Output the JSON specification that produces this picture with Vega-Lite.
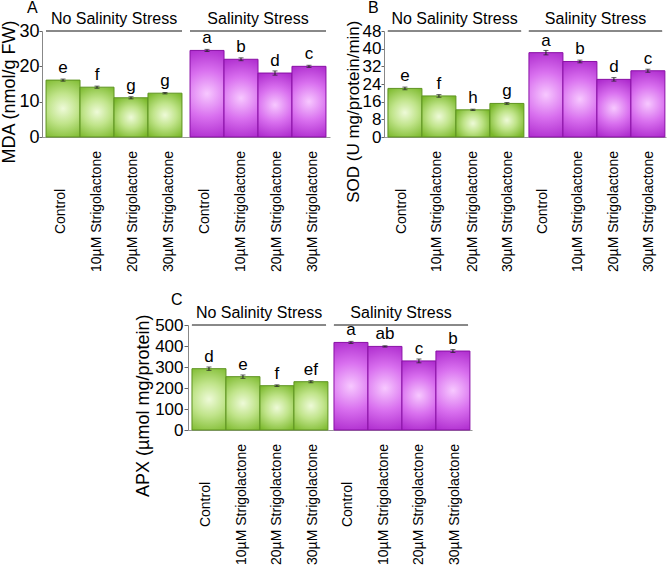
{
  "$schema": "https://vega.github.io/schema/vega-lite/v6.json",
  "background": "white",
  "padding": {"left": 0, "top": 0, "right": 2, "bottom": 0},
  "config": {
    "font": "Liberation Sans",
    "view": {"stroke": null},
    "axis": {"labelColor": "black", "titleColor": "black", "labelFont": "Liberation Sans", "titleFont": "Liberation Sans", "grid": false},
    "title": {"font": "Liberation Sans", "color": "black"}
  },
  "datasets": {
    "A": [
      {"stress": "No Salinity Stress", "treatment": "Control", "bar": "NS|Control", "value": 16.1, "err": 0.3, "letter": "e"},
      {"stress": "No Salinity Stress", "treatment": "10µM Strigolactone", "bar": "NS|10µM Strigolactone", "value": 14.1, "err": 0.3, "letter": "f"},
      {"stress": "No Salinity Stress", "treatment": "20µM Strigolactone", "bar": "NS|20µM Strigolactone", "value": 11.1, "err": 0.3, "letter": "g"},
      {"stress": "No Salinity Stress", "treatment": "30µM Strigolactone", "bar": "NS|30µM Strigolactone", "value": 12.4, "err": 0.2, "letter": "g"},
      {"stress": "Salinity Stress", "treatment": "Control", "bar": "S|Control", "value": 24.5, "err": 0.3, "letter": "a"},
      {"stress": "Salinity Stress", "treatment": "10µM Strigolactone", "bar": "S|10µM Strigolactone", "value": 22.0, "err": 0.4, "letter": "b"},
      {"stress": "Salinity Stress", "treatment": "20µM Strigolactone", "bar": "S|20µM Strigolactone", "value": 18.1, "err": 0.6, "letter": "d"},
      {"stress": "Salinity Stress", "treatment": "30µM Strigolactone", "bar": "S|30µM Strigolactone", "value": 20.0, "err": 0.3, "letter": "c"}
    ],
    "B": [
      {"stress": "No Salinity Stress", "treatment": "Control", "bar": "NS|Control", "value": 22.0, "err": 0.6, "letter": "e"},
      {"stress": "No Salinity Stress", "treatment": "10µM Strigolactone", "bar": "NS|10µM Strigolactone", "value": 18.6, "err": 0.6, "letter": "f"},
      {"stress": "No Salinity Stress", "treatment": "20µM Strigolactone", "bar": "NS|20µM Strigolactone", "value": 12.3, "err": 0.3, "letter": "h"},
      {"stress": "No Salinity Stress", "treatment": "30µM Strigolactone", "bar": "NS|30µM Strigolactone", "value": 15.2, "err": 0.4, "letter": "g"},
      {"stress": "Salinity Stress", "treatment": "Control", "bar": "S|Control", "value": 38.2, "err": 1.0, "letter": "a"},
      {"stress": "Salinity Stress", "treatment": "10µM Strigolactone", "bar": "S|10µM Strigolactone", "value": 34.2, "err": 0.6, "letter": "b"},
      {"stress": "Salinity Stress", "treatment": "20µM Strigolactone", "bar": "S|20µM Strigolactone", "value": 26.1, "err": 0.8, "letter": "d"},
      {"stress": "Salinity Stress", "treatment": "30µM Strigolactone", "bar": "S|30µM Strigolactone", "value": 30.0, "err": 0.7, "letter": "c"}
    ],
    "C": [
      {"stress": "No Salinity Stress", "treatment": "Control", "bar": "NS|Control", "value": 292, "err": 8, "letter": "d"},
      {"stress": "No Salinity Stress", "treatment": "10µM Strigolactone", "bar": "NS|10µM Strigolactone", "value": 254, "err": 8, "letter": "e"},
      {"stress": "No Salinity Stress", "treatment": "20µM Strigolactone", "bar": "NS|20µM Strigolactone", "value": 211, "err": 4, "letter": "f"},
      {"stress": "No Salinity Stress", "treatment": "30µM Strigolactone", "bar": "NS|30µM Strigolactone", "value": 230, "err": 5, "letter": "ef"},
      {"stress": "Salinity Stress", "treatment": "Control", "bar": "S|Control", "value": 417, "err": 5, "letter": "a"},
      {"stress": "Salinity Stress", "treatment": "10µM Strigolactone", "bar": "S|10µM Strigolactone", "value": 398, "err": 3, "letter": "ab"},
      {"stress": "Salinity Stress", "treatment": "20µM Strigolactone", "bar": "S|20µM Strigolactone", "value": 329, "err": 9, "letter": "c"},
      {"stress": "Salinity Stress", "treatment": "30µM Strigolactone", "bar": "S|30µM Strigolactone", "value": 376, "err": 7, "letter": "b"}
    ]
  },
  "vconcat": [
    {
      "hconcat": [
        {
          "data": {"name": "A"},
          "width": 288, "height": 106,
          "title": {"text": "A", "anchor": "start", "frame": "group", "fontSize": 16, "fontWeight": "normal", "dx": -15, "offset": -6},
          "encoding": {
            "y": {"field": "value", "type": "quantitative", "scale": {"domain": [0, 30]}, "title": "MDA (nmol/g FW)",
              "axis": {"title": "MDA (nmol/g FW)", "values": [0, 10, 20, 30], "domainColor": "#888", "tickColor": "#666", "tickSize": 3, "labelFontSize": 18, "labelPadding": 0, "titleFontSize": 18, "titleFontWeight": "normal", "titleAnchor": "end", "titleY": -11, "titlePadding": 0}}
          },
          "layer": [
            {
              "encoding": {
                "x": {"field": "stress", "type": "nominal", "sort": ["No Salinity Stress", "Salinity Stress"], "scale": {"paddingInner": 0.056, "paddingOuter": 0.028},
                  "axis": {"orient": "top", "title": null, "domain": false, "ticks": false, "labelFontSize": 16, "labelPadding": 5, "labelAngle": 0}},
                "xOffset": {"field": "treatment", "type": "nominal", "sort": ["Control", "10µM Strigolactone", "20µM Strigolactone", "30µM Strigolactone"], "scale": {"paddingInner": 0, "paddingOuter": 0}}
              },
              "layer": [
                {
                  "mark": {"type": "bar", "strokeWidth": 1},
                  "encoding": {
                    "fill": {"condition": {"test": "datum.stress === 'Salinity Stress'", "value": {"gradient": "radial", "x1": 0.5, "y1": 0.5, "r1": 0, "x2": 0.5, "y2": 0.5, "r2": 0.6, "stops": [{"offset": 0, "color": "#f7c8ff"}, {"offset": 0.45, "color": "#d970ef"}, {"offset": 1, "color": "#a41cc6"}]}},
                      "value": {"gradient": "radial", "x1": 0.5, "y1": 0.5, "r1": 0, "x2": 0.5, "y2": 0.5, "r2": 0.6, "stops": [{"offset": 0, "color": "#eefad8"}, {"offset": 0.45, "color": "#c0e48a"}, {"offset": 1, "color": "#7ab82a"}]}},
                    "stroke": {"condition": {"test": "datum.stress === 'Salinity Stress'", "value": "#8a10a6"}, "value": "#5e9420"}
                  }
                },
                {
                  "mark": {"type": "errorbar", "ticks": {"size": 5, "color": "#222"}, "rule": {"color": "#222"}},
                  "encoding": {"yError": {"field": "err"}}
                },
                {
                  "mark": {"type": "text", "fontSize": 17, "baseline": "bottom", "dy": -3, "color": "black"},
                  "encoding": {"text": {"field": "letter"}}
                },
                {
                  "mark": {"type": "bar", "fillOpacity": 0, "stroke": "#888", "strokeWidth": 1},
                  "encoding": {"xOffset": null, "y": {"datum": 30}, "y2": {"datum": 30}}
                }
              ]
            },
            {
              "mark": {"type": "point", "opacity": 0},
              "encoding": {
                "x": {"field": "bar", "type": "nominal", "sort": ["NS|Control", "NS|10µM Strigolactone", "NS|20µM Strigolactone", "NS|30µM Strigolactone", "S|Control", "S|10µM Strigolactone", "S|20µM Strigolactone", "S|30µM Strigolactone"],
                  "scale": {"paddingInner": 0, "paddingOuter": 0.13},
                  "axis": {"orient": "bottom", "title": null, "ticks": false, "domainColor": "#999", "labelAngle": -90, "labelAlign": "center", "labelBaseline": "middle", "labelPadding": 74, "labelFontSize": 14, "labelOverlap": false, "labelExpr": "split(datum.label, '|')[1]"}}
              }
            }
          ],
          "resolve": {"scale": {"x": "independent"}, "axis": {"x": "independent"}}
        },
        {
          "data": {"name": "B"},
          "width": 282, "height": 106,
          "title": {"text": "B", "anchor": "start", "frame": "group", "fontSize": 16, "fontWeight": "normal", "dx": -16, "offset": -6},
          "encoding": {
            "y": {"field": "value", "type": "quantitative", "scale": {"domain": [0, 48]}, "title": "SOD (U mg/protein/min)",
              "axis": {"title": "SOD (U mg/protein/min)", "values": [0, 8, 16, 24, 32, 40, 48], "domainColor": "#888", "tickColor": "#666", "tickSize": 3, "labelFontSize": 17, "labelPadding": 0, "titleFontSize": 17, "titleFontWeight": "normal", "titleAnchor": "end", "titleY": -11, "titlePadding": 0}}
          },
          "layer": [
            {
              "encoding": {
                "x": {"field": "stress", "type": "nominal", "sort": ["No Salinity Stress", "Salinity Stress"], "scale": {"paddingInner": 0.056, "paddingOuter": 0.028},
                  "axis": {"orient": "top", "title": null, "domain": false, "ticks": false, "labelFontSize": 16, "labelPadding": 5, "labelAngle": 0}},
                "xOffset": {"field": "treatment", "type": "nominal", "sort": ["Control", "10µM Strigolactone", "20µM Strigolactone", "30µM Strigolactone"], "scale": {"paddingInner": 0, "paddingOuter": 0}}
              },
              "layer": [
                {
                  "mark": {"type": "bar", "strokeWidth": 1},
                  "encoding": {
                    "fill": {"condition": {"test": "datum.stress === 'Salinity Stress'", "value": {"gradient": "radial", "x1": 0.5, "y1": 0.5, "r1": 0, "x2": 0.5, "y2": 0.5, "r2": 0.6, "stops": [{"offset": 0, "color": "#f7c8ff"}, {"offset": 0.45, "color": "#d970ef"}, {"offset": 1, "color": "#a41cc6"}]}},
                      "value": {"gradient": "radial", "x1": 0.5, "y1": 0.5, "r1": 0, "x2": 0.5, "y2": 0.5, "r2": 0.6, "stops": [{"offset": 0, "color": "#eefad8"}, {"offset": 0.45, "color": "#c0e48a"}, {"offset": 1, "color": "#7ab82a"}]}},
                    "stroke": {"condition": {"test": "datum.stress === 'Salinity Stress'", "value": "#8a10a6"}, "value": "#5e9420"}
                  }
                },
                {
                  "mark": {"type": "errorbar", "ticks": {"size": 5, "color": "#222"}, "rule": {"color": "#222"}},
                  "encoding": {"yError": {"field": "err"}}
                },
                {
                  "mark": {"type": "text", "fontSize": 17, "baseline": "bottom", "dy": -3, "color": "black"},
                  "encoding": {"text": {"field": "letter"}}
                },
                {
                  "mark": {"type": "bar", "fillOpacity": 0, "stroke": "#888", "strokeWidth": 1},
                  "encoding": {"xOffset": null, "y": {"datum": 48}, "y2": {"datum": 48}}
                }
              ]
            },
            {
              "mark": {"type": "point", "opacity": 0},
              "encoding": {
                "x": {"field": "bar", "type": "nominal", "sort": ["NS|Control", "NS|10µM Strigolactone", "NS|20µM Strigolactone", "NS|30µM Strigolactone", "S|Control", "S|10µM Strigolactone", "S|20µM Strigolactone", "S|30µM Strigolactone"],
                  "scale": {"paddingInner": 0, "paddingOuter": 0.13},
                  "axis": {"orient": "bottom", "title": null, "ticks": false, "domainColor": "#999", "labelAngle": -90, "labelAlign": "center", "labelBaseline": "middle", "labelPadding": 74, "labelFontSize": 14, "labelOverlap": false, "labelExpr": "split(datum.label, '|')[1]"}}
              }
            }
          ],
          "resolve": {"scale": {"x": "independent"}, "axis": {"x": "independent"}}
        }
      ],
      "spacing": 14
    },
    {
      "data": {"name": "C"},
      "width": 284, "height": 105,
      "title": {"text": "C", "anchor": "start", "frame": "group", "fontSize": 16, "fontWeight": "normal", "dx": -17, "offset": -4},
      "encoding": {
        "y": {"field": "value", "type": "quantitative", "scale": {"domain": [0, 500]}, "title": "APX (µmol mg/protein)",
          "axis": {"title": "APX (µmol mg/protein)", "values": [0, 100, 200, 300, 400, 500], "domainColor": "#888", "tickColor": "#666", "tickSize": 4, "labelFontSize": 17, "labelPadding": 1, "titleFontSize": 18, "titleFontWeight": "normal", "titleAnchor": "end", "titleY": -11, "titlePadding": 2}}
      },
      "layer": [
        {
          "encoding": {
            "x": {"field": "stress", "type": "nominal", "sort": ["No Salinity Stress", "Salinity Stress"], "scale": {"paddingInner": 0.056, "paddingOuter": 0.028},
              "axis": {"orient": "top", "title": null, "domain": false, "ticks": false, "labelFontSize": 16, "labelPadding": 5, "labelAngle": 0}},
            "xOffset": {"field": "treatment", "type": "nominal", "sort": ["Control", "10µM Strigolactone", "20µM Strigolactone", "30µM Strigolactone"], "scale": {"paddingInner": 0, "paddingOuter": 0}}
          },
          "layer": [
            {
              "mark": {"type": "bar", "strokeWidth": 1},
              "encoding": {
                "fill": {"condition": {"test": "datum.stress === 'Salinity Stress'", "value": {"gradient": "radial", "x1": 0.5, "y1": 0.5, "r1": 0, "x2": 0.5, "y2": 0.5, "r2": 0.6, "stops": [{"offset": 0, "color": "#f7c8ff"}, {"offset": 0.45, "color": "#d970ef"}, {"offset": 1, "color": "#a41cc6"}]}},
                  "value": {"gradient": "radial", "x1": 0.5, "y1": 0.5, "r1": 0, "x2": 0.5, "y2": 0.5, "r2": 0.6, "stops": [{"offset": 0, "color": "#eefad8"}, {"offset": 0.45, "color": "#c0e48a"}, {"offset": 1, "color": "#7ab82a"}]}},
                "stroke": {"condition": {"test": "datum.stress === 'Salinity Stress'", "value": "#8a10a6"}, "value": "#5e9420"}
              }
            },
            {
              "mark": {"type": "errorbar", "ticks": {"size": 5, "color": "#222"}, "rule": {"color": "#222"}},
              "encoding": {"yError": {"field": "err"}}
            },
            {
              "mark": {"type": "text", "fontSize": 17, "baseline": "bottom", "dy": -3, "color": "black"},
              "encoding": {"text": {"field": "letter"}}
            },
            {
              "mark": {"type": "bar", "fillOpacity": 0, "stroke": "#888", "strokeWidth": 1},
              "encoding": {"xOffset": null, "y": {"datum": 500}, "y2": {"datum": 500}}
            }
          ]
        },
        {
          "mark": {"type": "point", "opacity": 0},
          "encoding": {
            "x": {"field": "bar", "type": "nominal", "sort": ["NS|Control", "NS|10µM Strigolactone", "NS|20µM Strigolactone", "NS|30µM Strigolactone", "S|Control", "S|10µM Strigolactone", "S|20µM Strigolactone", "S|30µM Strigolactone"],
              "scale": {"paddingInner": 0, "paddingOuter": 0.13},
              "axis": {"orient": "bottom", "title": " ", "titleX": 332, "titleY": 0, "titleFontSize": 4, "ticks": false, "domainColor": "#999", "labelAngle": -90, "labelAlign": "center", "labelBaseline": "middle", "labelPadding": 74, "labelFontSize": 14, "labelOverlap": false, "labelExpr": "split(datum.label, '|')[1]"}}
          }
        }
      ],
      "resolve": {"scale": {"x": "independent"}, "axis": {"x": "independent"}}
    }
  ],
  "spacing": 20,
  "center": true
}
